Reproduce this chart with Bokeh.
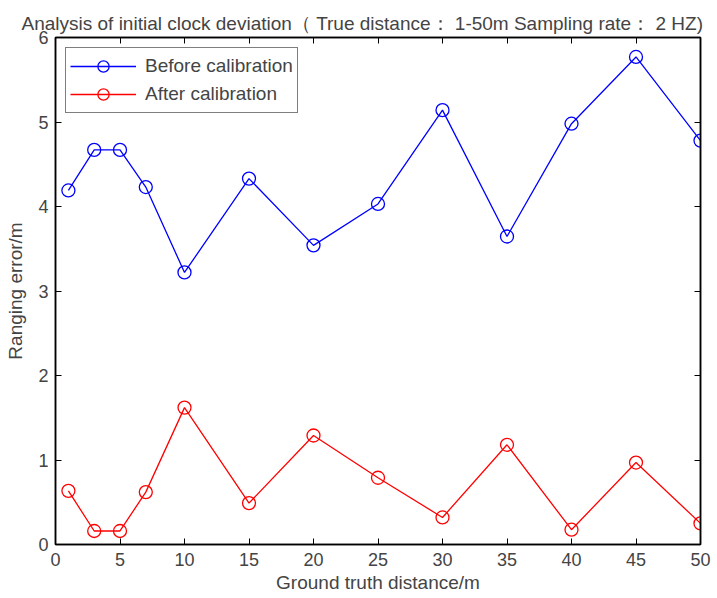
from bokeh.plotting import figure
from bokeh.models import LinearAxis, FixedTicker, Range1d, Legend, LegendItem
from bokeh.embed import file_html
from bokeh.resources import INLINE

# ---- data ----
distance = [1, 3, 5, 7, 10, 15, 20, 25, 30, 35, 40, 45, 50]
before_cal = [4.19, 4.67, 4.67, 4.23, 3.22, 4.33, 3.54, 4.03, 5.14, 3.645, 4.98, 5.77, 4.78]
after_cal = [0.635, 0.16, 0.16, 0.62, 1.62, 0.49, 1.29, 0.79, 0.32, 1.18, 0.175, 0.97, 0.25]
x_ticks = [0, 5, 10, 15, 20, 25, 30, 35, 40, 45, 50]
y_ticks = [0, 1, 2, 3, 4, 5, 6]
title_text = "Analysis of initial clock deviation（ True distance： 1-50m  Sampling rate： 2 HZ)"
x_label = "Ground truth distance/m"
y_label = "Ranging error/m"
series_names = ["Before calibration", "After calibration"]

FONT = "Liberation Sans"

p = figure(width=717, height=598, output_backend="svg", toolbar_location=None,
           x_range=Range1d(0, 50), y_range=Range1d(0, 6),
           min_border_left=55, min_border_right=17, min_border_top=37, min_border_bottom=54,
           x_axis_location=None, y_axis_location=None)
p.grid.visible = False
p.outline_line_color = "black"
p.outline_line_width = 1.5
p.background_fill_color = "white"
p.border_fill_color = "white"

p.title.text = title_text
p.title.text_font = FONT
p.title.text_font_size = "19px"
p.title.text_font_style = "normal"
p.title.align = "left"
p.title.offset = -34
p.title.standoff = 7


def style_axis(ax, labels=True):
    ax.axis_line_color = "black"
    ax.axis_line_width = 1.5
    ax.major_tick_in = 6
    ax.major_tick_out = 0
    ax.minor_tick_line_color = None
    ax.major_tick_line_width = 1
    ax.major_label_text_font = FONT
    if labels:
        ax.major_label_text_font_size = "18px"
    else:
        ax.major_label_text_font_size = "1px"
        ax.major_label_text_color = None
        ax.major_label_standoff = 0
    ax.axis_label_text_font = FONT
    ax.axis_label_text_font_size = "19px"
    ax.axis_label_text_font_style = "normal"


xb = LinearAxis(ticker=FixedTicker(ticks=x_ticks), axis_label=x_label)
style_axis(xb)
xb.major_label_standoff = 8
xb.axis_label_standoff = 3
p.add_layout(xb, "below")

yl = LinearAxis(ticker=FixedTicker(ticks=y_ticks), axis_label=y_label)
style_axis(yl)
yl.major_label_standoff = 7
yl.axis_label_standoff = 9
p.add_layout(yl, "left")

xt = LinearAxis(ticker=FixedTicker(ticks=x_ticks))
style_axis(xt, labels=False)
p.add_layout(xt, "above")

yr = LinearAxis(ticker=FixedTicker(ticks=y_ticks))
style_axis(yr, labels=False)
p.add_layout(yr, "right")

l1 = p.line(distance, before_cal, line_color="#0000ff", line_width=1.3)
s1 = p.scatter(distance, before_cal, marker="circle", size=13, fill_color=None,
               line_color="#0000ff", line_width=1.3)
l2 = p.line(distance, after_cal, line_color="#ff0000", line_width=1.3)
s2 = p.scatter(distance, after_cal, marker="circle", size=13, fill_color=None,
               line_color="#ff0000", line_width=1.3)

legend = Legend(items=[LegendItem(label=series_names[0], renderers=[l1, s1]),
                       LegendItem(label=series_names[1], renderers=[l2, s2])],
                location="top_left")
legend.margin = 10
legend.padding = 4
legend.spacing = 0
legend.glyph_width = 66
legend.glyph_height = 28
legend.label_text_font = FONT
legend.label_text_font_size = "19px"
legend.label_standoff = 9
legend.border_line_color = "black"
legend.border_line_width = 1.5
legend.background_fill_alpha = 1
p.add_layout(legend)

open("out.html", "w").write(file_html(p, INLINE))
